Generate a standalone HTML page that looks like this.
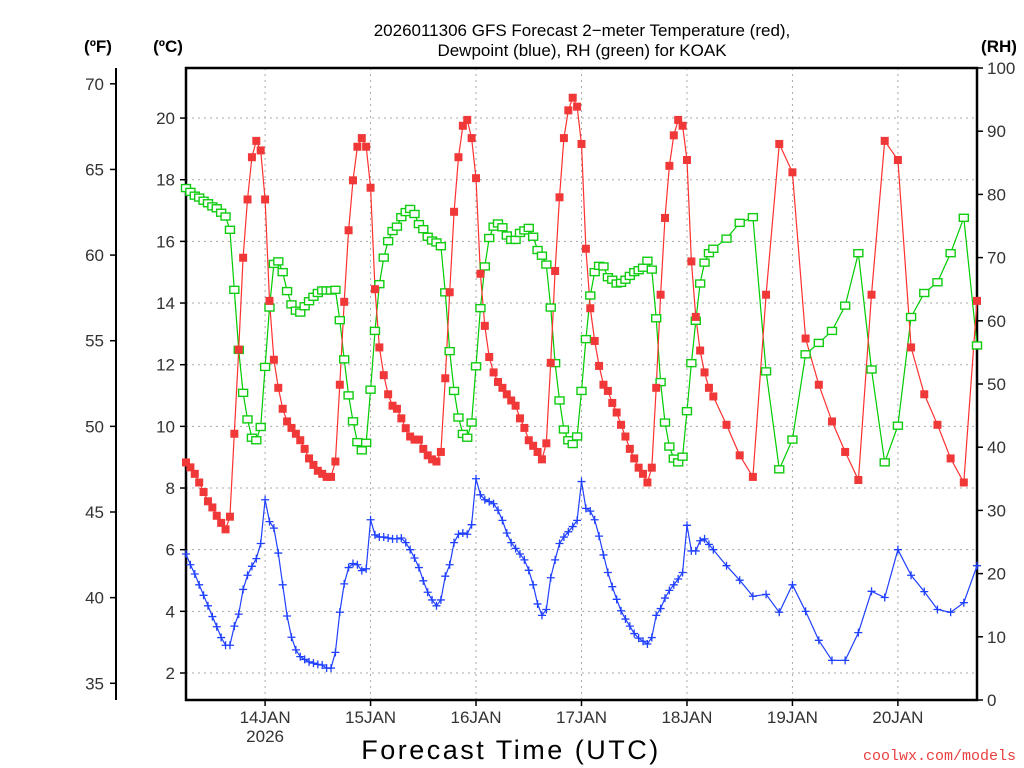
<!DOCTYPE html>
<html><head><meta charset="utf-8"><style>
body{margin:0;background:#fff;}
svg{display:block;font-family:"Liberation Sans",sans-serif;}
</style></head><body>
<svg id="chart" width="1024" height="768" viewBox="0 0 1024 768" xmlns="http://www.w3.org/2000/svg">
<text x="582" y="36" font-size="17" text-anchor="middle">2026011306 GFS Forecast 2−meter Temperature (red),</text>
<text x="582" y="56" font-size="17" text-anchor="middle">Dewpoint (blue), RH (green) for KOAK</text>
<text x="98" y="52" font-size="17" font-weight="bold" text-anchor="middle">(ºF)</text>
<text x="168" y="52" font-size="17" font-weight="bold" text-anchor="middle">(ºC)</text>
<text x="999" y="52" font-size="17" font-weight="bold" text-anchor="middle">(RH)</text>
<text x="511" y="759" font-size="27" text-anchor="middle" letter-spacing="2.5">Forecast Time (UTC)</text>
<text x="1016" y="760" font-size="15" fill="#e84040" text-anchor="end" font-family="Liberation Mono, monospace">coolwx.com/models</text>
<g id="grid"></g><g id="axes"></g><g id="series"></g>
</svg>
<script>
const hours=[];for(let h=0;h<=120;h++)hours.push(h);for(let h=123;h<=180;h+=3)hours.push(h);
const dayLabels=["14JAN","15JAN","16JAN","17JAN","18JAN","19JAN","20JAN"];
const dayHours=[18,42,66,90,114,138,162];
const cTicks=[2,4,6,8,10,12,14,16,18,20];
const fTicks=[35,40,45,50,55,60,65,70];
const rhTicks=[0,10,20,30,40,50,60,70,80,90,100];
const temp=[8.83,8.67,8.46,8.18,7.87,7.57,7.37,7.10,6.87,6.66,7.07,9.76,12.49,15.47,17.36,18.73,19.26,18.95,17.36,14.07,12.16,11.25,10.57,10.16,9.95,9.76,9.55,9.27,8.96,8.75,8.56,8.46,8.36,8.36,8.86,11.35,14.04,16.36,17.98,19.07,19.35,19.07,17.74,14.45,12.56,
11.66,11.04,10.67,10.57,10.26,9.94,9.67,9.57,9.57,9.27,9.06,8.93,8.86,9.17,11.56,14.35,16.96,18.73,19.75,19.94,19.35,18.05,14.95,13.26,12.25,11.75,11.44,11.25,11.04,10.84,10.67,10.26,9.95,9.55,9.37,9.17,8.93,9.45,12.06,15.04,17.43,19.35,20.25,20.66,20.37,19.16,15.76,13.83,
12.77,11.96,11.35,11.15,10.76,10.45,10.05,9.67,9.27,8.96,8.66,8.46,8.18,8.66,11.25,14.27,16.76,18.45,19.44,19.94,19.75,18.64,15.35,13.55,12.46,11.75,11.25,10.97,
10.05,9.06,8.36,14.27,19.16,18.24,12.85,11.35,10.16,9.17,8.26,14.27,19.26,18.64,12.56,11.04,10.05,8.96,8.18,14.07];
const dewp=[5.86,5.51,5.21,4.86,4.52,4.18,3.83,3.50,3.15,2.90,2.90,3.52,3.91,4.71,5.17,5.46,5.71,6.20,7.62,6.91,6.70,5.89,4.86,3.85,3.16,2.75,2.53,2.44,2.36,2.32,2.28,2.26,2.16,2.16,2.67,3.97,4.89,5.42,5.55,5.51,5.32,5.38,6.97,6.48,6.41,
6.41,6.38,6.35,6.35,6.38,6.23,6.00,5.73,5.42,4.99,4.62,4.37,4.18,4.37,5.14,5.51,6.23,6.50,6.54,6.50,6.81,8.30,7.78,7.62,7.56,7.49,7.28,6.95,6.54,6.23,6.04,5.86,5.67,5.33,4.86,4.24,3.87,4.06,5.09,5.67,6.20,6.41,6.58,6.75,6.95,8.21,7.34,7.25,
6.97,6.44,5.83,5.26,4.80,4.39,4.02,3.75,3.52,3.28,3.13,3.03,2.94,3.15,3.87,4.09,4.43,4.68,4.86,5.05,5.26,6.79,5.96,5.96,6.29,6.35,6.17,6.00,
5.48,5.01,4.49,4.55,3.97,4.86,4.00,3.06,2.41,2.41,3.31,4.65,4.45,6.00,5.17,4.64,4.06,3.97,4.28,5.48];
const rh=[81.0,80.4,79.8,79.5,79.0,78.6,78.1,77.8,77.1,76.5,74.4,64.9,55.4,48.6,44.4,41.5,41.1,43.2,52.7,62.1,69.0,69.4,67.7,64.7,62.6,61.6,61.3,62.3,63.1,63.8,64.4,64.8,64.8,64.8,64.9,60.1,53.9,48.2,44.1,40.8,39.5,40.7,49.1,58.4,65.8,
70.0,72.6,74.2,74.9,76.4,77.2,77.7,76.9,75.3,74.5,73.3,72.7,72.4,71.8,64.5,55.2,48.9,44.7,42.1,41.5,43.9,52.8,62.0,68.6,73.1,74.9,75.4,74.8,73.5,72.8,72.8,73.9,74.3,74.7,73.3,71.2,70.3,68.9,62.1,53.3,47.4,42.8,41.1,40.5,41.7,48.9,57.1,64.0,
67.7,68.7,68.6,66.9,66.5,65.9,66.0,66.5,67.1,67.7,68.0,68.4,69.5,68.1,60.4,50.3,43.9,40.1,38.2,37.6,38.5,45.7,53.3,60.0,65.9,69.2,70.7,71.4,
73.0,75.5,76.4,52.0,36.5,41.2,54.7,56.5,58.4,62.4,70.7,52.3,37.6,43.4,60.6,64.4,66.1,70.7,76.3,56.1];

const NS="http://www.w3.org/2000/svg";
const L=186,R=977,T=68,B=700;
const x=h=>L+(R-L)*h/180;
const yC=c=>673-(c-2)*30.83;
const yF=f=>yC((f-32)*5/9);
const yRH=r=>B-(B-T)*r/100;
function mk(tag,attrs,parent,txt){const e=document.createElementNS(NS,tag);for(const k in attrs)e.setAttribute(k,attrs[k]);if(txt!==undefined)e.textContent=txt;parent.appendChild(e);return e;}
const grid=document.getElementById('grid'),axes=document.getElementById('axes'),ser=document.getElementById('series');
cTicks.forEach(c=>{
  const g=mk('line',{x1:L,x2:R,y1:yC(c),y2:yC(c),stroke:'#aaa','stroke-dasharray':'2,4','stroke-width':1},grid);
  
  
  const t=mk('line',{x1:L-6,x2:L,y1:yC(c),y2:yC(c),stroke:'#000','stroke-width':1.5},axes);
  
  
  const tx=mk('text',{x:L-11,y:yC(c)+6,'font-size':17,'text-anchor':'end',fill:'#333'},axes,String(c));
  
  
});
dayHours.forEach((h,i)=>{
  const g=mk('line',{x1:x(h),x2:x(h),y1:T,y2:B,stroke:'#aaa','stroke-dasharray':'2,4','stroke-width':1},grid);
  
  
  const t=mk('line',{x1:x(h),x2:x(h),y1:B,y2:B+6,stroke:'#000','stroke-width':1.5},axes);
  
  
  const tx=mk('text',{x:x(h),y:B+23,'font-size':17,'text-anchor':'middle',fill:'#333'},axes,dayLabels[i]);
  
  
});
const yr=mk('text',{x:x(dayHours[0]),y:B+42,'font-size':17,'text-anchor':'middle',fill:'#333'},axes,'2026');


const fl=mk('line',{x1:116,x2:116,y1:T,y2:B,stroke:'#000','stroke-width':2},axes);


fTicks.forEach(f=>{
  const t=mk('line',{x1:110,x2:116,y1:yF(f),y2:yF(f),stroke:'#000','stroke-width':1.5},axes);
  
  
  const tx=mk('text',{x:104,y:yF(f)+6,'font-size':17,'text-anchor':'end',fill:'#333'},axes,String(f));
  
  
});
rhTicks.forEach(r=>{
  const t=mk('line',{x1:R,x2:R+6,y1:yRH(r),y2:yRH(r),stroke:'#000','stroke-width':1.5},axes);
  
  
  const tx=mk('text',{x:R+10,y:yRH(r)+6,'font-size':17,'text-anchor':'start',fill:'#333'},axes,String(r));
  
  
});
const fr=mk('rect',{x:L,y:T,width:R-L,height:B-T,fill:'none',stroke:'#000','stroke-width':2.5},axes);



function line(vals,yf,color,name){
  const pts=vals.map((v,i)=>x(hours[i]).toFixed(1)+','+yf(v).toFixed(1)).join(' ');
  const p=mk('polyline',{points:pts,fill:'none',stroke:color,'stroke-width':1.2},ser);
  
  
}
line(rh,yRH,'#00cc00','rh-line');
line(dewp,yC,'#2040ff','dewpoint-line');
line(temp,yC,'#ff3030','temperature-line');
rh.forEach((v,i)=>{
  const m=mk('rect',{x:x(hours[i])-4.5,y:yRH(v)-3.5,width:9,height:7,fill:'#fff',stroke:'#10cc10','stroke-width':1.4},ser);
  
  
});
dewp.forEach((v,i)=>{
  const cx=x(hours[i]),cy=yC(v);
  const m=mk('path',{d:`M${cx-4},${cy}H${cx+4}M${cx},${cy-4}V${cy+4}`,stroke:'#2040ff','stroke-width':1.3,fill:'none'},ser);
  
  
});
temp.forEach((v,i)=>{
  const m=mk('rect',{x:x(hours[i])-4,y:yC(v)-4,width:8,height:8,fill:'#f03838'},ser);
  
  
});
</script>
</body></html>
